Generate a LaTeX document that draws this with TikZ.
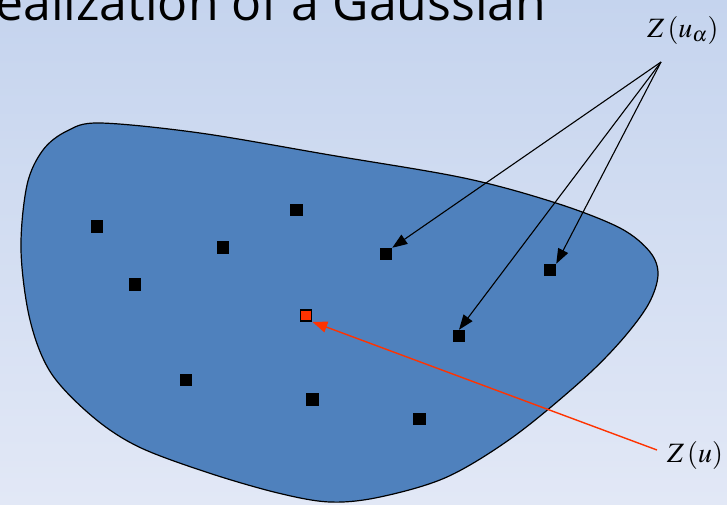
\documentclass[tikz,border=0pt]{standalone}
\usepackage{mathptmx}
\usepackage{fontspec}
\newfontfamily\titlefont{Open Sans}
\usetikzlibrary{arrows.meta}
\definecolor{bgtop}{HTML}{C5D4EE}
\definecolor{bgbot}{HTML}{E2E8F6}
\definecolor{blob}{HTML}{4F81BD}
\definecolor{redpt}{HTML}{FF3300}
\tikzset{
  pt/.style={fill=black, minimum size=12.5pt, inner sep=0pt, outer sep=0pt},
  redsq/.style={fill=redpt, draw=black, line width=1.6pt, minimum size=11pt, inner sep=0pt},
  blk/.style={black, line width=1.1pt, -{Triangle[length=15pt,width=11pt]}},
  redarr/.style={redpt, line width=1.4pt, -{Triangle[length=15pt,width=11pt]}},
  mlab/.style={font=\fontsize{28}{32}\selectfont, inner sep=0pt}
}
\begin{document}
\begin{tikzpicture}[x=1pt,y=-1pt]
\useasboundingbox (0,0) rectangle (727,504);
\shade[top color=bgtop, bottom color=bgbot] (0,0) rectangle (727,504);
\begin{scope}
\clip (0,0) rectangle (727,504);
\node[anchor=base west, inner sep=0pt, font=\titlefont\fontsize{50}{52}\selectfont] (title) at (-5,20) {ealization of a Gaussian};
\end{scope}
\draw[line width=1.2pt, fill=blob] plot[smooth cycle, tension=0.55] coordinates {
 (100,123) (200,133) (330,155) (464,178) (556,203) (620,228) (650,252) (658,275)
 (648,305) (620,342) (580,382) (513,437) (447,477) (380,497) (330,502) (278,493)
 (209,473) (139,447) (93,417) (51,373) (30,320) (21,250) (27,185) (43,150) (67,131)};
\node[pt] (s1) at (97,226.5) {};
\node[pt] (s2) at (296.5,210) {};
\node[pt] (s3) at (223,247.5) {};
\node[pt] (s4) at (386,254) {};
\node[pt] (s5) at (550,270) {};
\node[pt] (s6) at (135,284.5) {};
\node[redsq] (r) at (306,315.5) {};
\node[pt] (s7) at (459,336) {};
\node[pt] (s8) at (186,380) {};
\node[pt] (s9) at (312.5,399.5) {};
\node[pt] (s10) at (419.5,419) {};
\node[mlab] (za) at (683,30) {$Z\left(u_\alpha\right)$};
\node[mlab] (zu) at (695,455) {$Z\left(u\right)$};
\coordinate (src) at (661,62);
\coordinate (rsrc) at (657,450);
\draw[blk] (src) -- (s4.north east);
\draw[blk] (src) -- (s7.north);
\draw[blk] (src) -- (s5.north east);
\draw[redarr] (rsrc) -- (r.south east);
\end{tikzpicture}
\end{document}
